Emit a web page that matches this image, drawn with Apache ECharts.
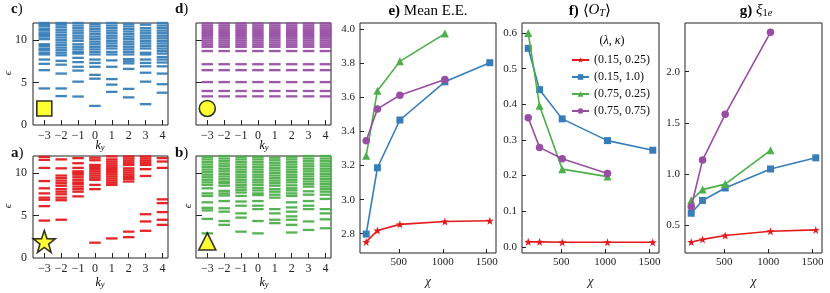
<!DOCTYPE html>
<html>
<head>
<meta charset="utf-8">
<script src="https://cdn.jsdelivr.net/npm/echarts@6/dist/echarts.min.js"></script>
<style>html,body{margin:0;padding:0;background:#fff}#c{width:830px;height:293px}</style>
</head>
<body>
<div id="c"></div>
<script>
// ---------- DATA ----------
const kValues = [-3, -2, -1, 0, 1, 2, 3, 4];
const spectrumTicks = [0, 5, 10];

// panel c) blue spectrum, one list per k
const levelsC = [
  [4.3, 6.45, 7.2, 7.7, 8.3, 8.5, 8.8, 9.0, 9.3, 9.5, 10.1, 10.4, 10.6, 10.8, 11.1, 11.3, 11.6, 11.8, 12.0],
  [3.4, 4.3, 6.05, 7.1, 7.55, 8.2, 8.5, 8.8, 9.1, 9.4, 9.7, 10.0, 10.3, 10.6, 10.9, 11.2, 11.5, 11.8, 12.0],
  [3.35, 5.1, 6.4, 6.85, 7.4, 7.9, 8.4, 8.6, 8.9, 9.2, 9.5, 9.9, 10.2, 10.5, 10.8, 11.1, 11.4, 11.7, 12.0],
  [2.25, 5.45, 5.9, 6.85, 7.3, 7.7, 8.3, 8.6, 8.9, 9.2, 9.5, 9.8, 10.1, 10.4, 10.7, 11.0, 11.3, 11.6, 11.9],
  [3.9, 4.75, 5.4, 6.85, 7.6, 8.3, 8.6, 9.0, 9.3, 9.6, 9.9, 10.2, 10.5, 10.8, 11.1, 11.4, 11.7, 12.0],
  [3.25, 4.25, 6.6, 7.25, 7.5, 7.75, 8.3, 8.6, 8.9, 9.2, 9.5, 9.8, 10.1, 10.4, 10.7, 11.0, 11.3, 11.6, 11.9],
  [2.45, 5.1, 6.15, 6.9, 7.3, 7.7, 8.3, 8.5, 9.0, 9.3, 9.6, 9.9, 10.2, 10.5, 10.8, 11.1, 11.4, 11.8],
  [3.8, 4.8, 6.05, 6.9, 7.35, 7.7, 8.0, 8.4, 8.7, 9.0, 9.3, 9.6, 9.9, 10.2, 10.5, 10.8, 11.1, 11.4, 11.7, 12.0]
];
// panel d) purple spectrum: identical levels at every k
const levelsDAllK = [3.37, 4.0, 5.05, 6.45, 7.15, 8.7, 9.2, 9.45, 9.7, 9.95, 10.2, 10.45, 10.7, 10.95, 11.2, 11.45, 11.7, 11.95];
// panel a) red spectrum
const levelsA = [
  [4.4, 6.1, 6.85, 7.1, 7.6, 8.2, 9.05, 10.6, 11.55, 11.9],
  [4.5, 6.8, 7.1, 7.5, 7.8, 8.1, 8.5, 8.8, 9.1, 9.4, 9.7, 10.55, 11.6],
  [7.25, 7.8, 8.1, 8.4, 8.7, 8.9, 9.2, 9.5, 9.8, 10.0, 10.2, 10.6, 11.15, 11.75],
  [1.8, 8.1, 8.6, 9.2, 9.45, 9.7, 9.95, 10.2, 10.45, 10.7, 10.95, 11.5, 11.8],
  [2.3, 8.6, 8.85, 9.1, 9.35, 9.6, 9.85, 10.1, 10.35, 10.6, 10.85, 11.1, 11.35, 11.6, 11.95],
  [2.45, 3.1, 9.0, 9.3, 9.55, 9.8, 10.05, 10.3, 10.55, 10.95, 11.2, 11.45, 11.7, 11.95],
  [3.2, 4.3, 5.15, 9.65, 10.45, 10.95, 11.2, 11.45, 11.7, 11.95],
  [3.9, 4.5, 5.4, 6.45, 6.9, 10.6, 11.35, 11.75]
];
// panel b) green spectrum
const levelsB = [
  [2.9, 4.6, 5.6, 5.9, 6.55, 7.3, 7.6, 8.2, 8.6, 8.9, 9.2, 9.5, 9.8, 10.1, 10.4, 10.7, 11.0, 11.3, 11.6, 11.9],
  [3.9, 4.35, 5.45, 5.85, 6.7, 7.35, 7.6, 7.9, 8.5, 8.8, 9.0, 9.3, 9.6, 9.9, 10.2, 10.5, 10.8, 11.1, 11.4, 11.7, 12.0],
  [3.1, 4.75, 5.25, 6.15, 6.65, 7.3, 7.7, 8.0, 8.3, 8.6, 8.9, 9.2, 9.5, 9.8, 10.1, 10.4, 10.7, 11.0, 11.3, 11.6, 11.9],
  [2.9, 4.35, 5.75, 6.15, 6.7, 7.4, 7.6, 7.95, 8.25, 8.6, 8.9, 9.2, 9.5, 9.8, 10.1, 10.4, 10.7, 11.0, 11.3, 11.6, 11.9],
  [4.1, 4.5, 5.25, 5.75, 7.1, 7.45, 7.8, 8.1, 8.5, 8.8, 9.1, 9.4, 9.7, 10.0, 10.3, 10.6, 10.9, 11.2, 11.5, 11.8],
  [3.0, 3.9, 4.5, 4.9, 5.45, 5.95, 6.55, 7.3, 7.6, 7.95, 8.2, 8.55, 8.9, 9.2, 9.5, 9.8, 10.1, 10.4, 10.7, 11.0, 11.3, 11.6, 11.9],
  [3.3, 4.3, 5.75, 6.15, 6.7, 7.45, 7.85, 8.4, 8.7, 9.0, 9.3, 9.6, 9.9, 10.2, 10.5, 10.8, 11.1, 11.4, 11.7, 12.0],
  [3.5, 4.55, 5.25, 5.75, 6.95, 7.45, 7.8, 8.1, 8.4, 8.7, 9.0, 9.3, 9.6, 9.9, 10.2, 10.5, 10.8, 11.1, 11.4, 11.7, 12.0]
];
// state markers in the spectrum panels [k, eps]
const markerPos = [-3, 1.95];

// e, f, g panels
const chi = [128, 256, 512, 1024, 1536];
const chiTicks = [500, 1000, 1500];
const seriesNames = ['(0.15, 0.25)', '(0.15, 1.0)', '(0.75, 0.25)', '(0.75, 0.75)'];

const eeRed    = [2.752, 2.819, 2.855, 2.872, 2.876];
const eeBlue   = [2.798, 3.187, 3.467, 3.691, 3.803];
const eeGreen  = [3.257, 3.639, 3.811, 3.974];
const eePurple = [3.346, 3.532, 3.612, 3.704];
const eeTicks  = [2.8, 3.0, 3.2, 3.4, 3.6, 3.8, 4.0];

const otRed    = [0.014, 0.014, 0.013, 0.013, 0.013];
const otBlue   = [0.557, 0.441, 0.359, 0.298, 0.271];
const otGreen  = [0.600, 0.396, 0.218, 0.197];
const otPurple = [0.362, 0.279, 0.247, 0.206];
const otTicks  = [0.0, 0.1, 0.2, 0.3, 0.4, 0.5, 0.6];

const xiRed    = [0.333, 0.359, 0.397, 0.439, 0.452];
const xiBlue   = [0.615, 0.740, 0.862, 1.048, 1.157];
const xiGreen  = [0.743, 0.846, 0.900, 1.230];
const xiPurple = [0.679, 1.135, 1.583, 2.385];
const xiTicks  = [0.5, 1.0, 1.5, 2.0];

// ---------- STYLE ----------
const FONT = 'Liberation Serif';
const RED = '#e41a1c', BLUE = '#377eb8', GREEN = '#4daf4a', PURPLE = '#984ea3';
const colors = [RED, BLUE, GREEN, PURPLE];
const STAR = 'path://M0,-10 L2.35,-3.24 L9.51,-3.09 L3.8,1.24 L5.88,8.09 L0,4 L-5.88,8.09 L-3.8,1.24 L-9.51,-3.09 L-2.35,-3.24 Z';
const symbols = [STAR, 'rect', 'triangle', 'circle'];
const symSizes = [8, 7, 8, 7.5];

const chart = echarts.init(document.getElementById('c'), null, {renderer: 'canvas'});

const grids = [
  {left: 33, top: 23, width: 135, height: 102},   // c
  {left: 196, top: 23, width: 135, height: 102},  // d
  {left: 33, top: 156, width: 135, height: 102},  // a
  {left: 196, top: 156, width: 135, height: 102}, // b
  {left: 360, top: 23, width: 136, height: 235},  // e
  {left: 522, top: 23, width: 137, height: 235},  // f
  {left: 685, top: 23, width: 137, height: 235}   // g
].map(g => Object.assign({show: true, borderColor: '#222', borderWidth: 1, backgroundColor: 'transparent'}, g));

const minus = v => (v < 0 ? '\u2212' + Math.abs(v) : '' + v);
const tickStyle = {inside: true, length: 4, lineStyle: {color: '#222', width: 1}};
const labelStyle = {fontFamily: FONT, fontSize: 12, color: '#222'};

const xAxes = [], yAxes = [];
for (let i = 0; i < 4; i++) {
  xAxes.push({
    gridIndex: i, type: 'value', min: -3.67, max: 4.33, position: 'bottom',
    axisLine: {show: false, onZero: false}, splitLine: {show: false},
    axisTick: Object.assign({customValues: kValues}, tickStyle, {length: 5}),
    axisLabel: Object.assign({customValues: kValues, formatter: minus, margin: 5}, labelStyle)
  });
  yAxes.push({
    gridIndex: i, type: 'value', min: 0, max: 12, position: 'left',
    axisLine: {show: false, onZero: false}, splitLine: {show: false},
    axisTick: Object.assign({customValues: [5, 10]}, tickStyle, {length: 6}),
    axisLabel: Object.assign({show: i === 0 || i === 2, customValues: spectrumTicks, margin: 6}, labelStyle)
  });
}
const yDefs = [
  {min: 2.687, max: 4.036, ticks: eeTicks},
  {min: -0.0173, max: 0.628, ticks: otTicks},
  {min: 0.226, max: 2.476, ticks: xiTicks}
];
for (let j = 0; j < 3; j++) {
  const gi = 4 + j;
  xAxes.push({
    gridIndex: gi, type: 'value', min: 57.6, max: 1606.4, position: 'bottom',
    axisLine: {show: false, onZero: false}, splitLine: {show: false},
    axisTick: Object.assign({customValues: chiTicks}, tickStyle),
    axisLabel: Object.assign({customValues: chiTicks, formatter: v => String(v), margin: 4}, labelStyle, {fontSize: 11}),
    name: '\u03c7', nameLocation: 'middle', nameGap: 22,
    nameTextStyle: {fontFamily: FONT, fontSize: 13, fontStyle: 'italic', color: '#222'}
  });
  yAxes.push({
    gridIndex: gi, type: 'value', min: yDefs[j].min, max: yDefs[j].max, position: 'left',
    axisLine: {show: false, onZero: false}, splitLine: {show: false},
    axisTick: Object.assign({customValues: yDefs[j].ticks}, tickStyle),
    axisLabel: Object.assign({customValues: yDefs[j].ticks, formatter: v => v.toFixed(1), margin: 5}, labelStyle, {fontSize: 11})
  });
}

const series = [];
function spectrum(gi, color, getLevels) {
  const data = [];
  kValues.forEach((k, idx) => getLevels(idx).forEach(e => data.push([k, e])));
  series.push({
    type: 'scatter', xAxisIndex: gi, yAxisIndex: gi, data: data,
    symbol: 'rect', symbolSize: [11.5, 2.3], silent: true,
    itemStyle: {color: color, opacity: 0.95}, emphasis: {disabled: true}, z: 2
  });
}
spectrum(0, BLUE, i => levelsC[i]);
spectrum(1, PURPLE, () => levelsDAllK);
spectrum(2, RED, i => levelsA[i]);
spectrum(3, GREEN, i => levelsB[i]);

const markerDefs = [
  {gi: 0, symbol: 'rect', size: 15},
  {gi: 1, symbol: 'circle', size: 16},
  {gi: 2, symbol: STAR, size: 22},
  {gi: 3, symbol: 'triangle', size: 17}
];
markerDefs.forEach(m => series.push({
  type: 'scatter', xAxisIndex: m.gi, yAxisIndex: m.gi, data: [markerPos],
  symbol: m.symbol, symbolSize: m.size, silent: true,
  itemStyle: {color: '#ffff00', borderColor: '#000', borderWidth: 1.6}, z: 5
}));

const panels = [
  [eeRed, eeBlue, eeGreen, eePurple],
  [otRed, otBlue, otGreen, otPurple],
  [xiRed, xiBlue, xiGreen, xiPurple]
];
panels.forEach((arrs, j) => {
  arrs.forEach((vals, s) => {
    series.push({
      type: 'line', name: seriesNames[s], xAxisIndex: 4 + j, yAxisIndex: 4 + j,
      data: vals.map((v, i) => [chi[i], v]),
      symbol: symbols[s], symbolSize: symSizes[s], showSymbol: true,
      lineStyle: {color: colors[s], width: 1.6},
      itemStyle: {color: colors[s]}, emphasis: {disabled: true}, z: 3 + s
    });
  });
});

const graphic = [];
function addText(x, y, text, rich) {
  graphic.push({type: 'text', x: x, y: y,
    style: {text: text, rich: rich, fill: '#111', textAlign: 'left', textVerticalAlign: 'middle'}});
}
const richPanel = {b: {fontFamily: FONT, fontSize: 15, fontWeight: 'bold', color: '#111'}, n: {fontFamily: FONT, fontSize: 15, color: '#111'}};
addText(11, 9, '{b|c}{n|)}', richPanel);
addText(175, 9, '{b|d}{n|)}', richPanel);
addText(11, 153, '{b|a}{n|)}', richPanel);
addText(175, 153, '{b|b}{n|)}', richPanel);

const richK = {
  i: {fontFamily: FONT, fontSize: 12, fontStyle: 'italic', color: '#111', verticalAlign: 'top', lineHeight: 12},
  s: {fontFamily: FONT, fontSize: 8.5, fontStyle: 'italic', color: '#111', verticalAlign: 'bottom', lineHeight: 9}
};
function kLabel(x, y) {
  graphic.push({type: 'text', x: x, y: y, style: {text: '{i|k}{s|y}', rich: richK, textAlign: 'center', textVerticalAlign: 'middle'}});
}
kLabel(100, 283); kLabel(264, 283); kLabel(100, 146); kLabel(264, 146);

function epsLabel(x, y) {
  graphic.push({type: 'text', x: x, y: y, rotation: Math.PI / 2,
    style: {text: '\u03f5', font: 'italic 11px "' + FONT + '"', fill: '#111', textAlign: 'center', textVerticalAlign: 'middle'}});
}
epsLabel(8, 73); epsLabel(8, 206); epsLabel(188, 206);

const richT = {
  b: {fontFamily: FONT, fontSize: 15, fontWeight: 'bold', color: '#111'},
  n: {fontFamily: FONT, fontSize: 15, color: '#111'},
  i: {fontFamily: FONT, fontSize: 15, fontStyle: 'italic', color: '#111', verticalAlign: 'top', lineHeight: 16},
  s: {fontFamily: FONT, fontSize: 10.5, fontStyle: 'italic', color: '#111', verticalAlign: 'bottom', lineHeight: 10},
  sn: {fontFamily: FONT, fontSize: 10.5, color: '#111', verticalAlign: 'bottom', lineHeight: 10}
};
function title(x, text) {
  graphic.push({type: 'text', x: x, y: 11, style: {text: text, rich: richT, textAlign: 'center', textVerticalAlign: 'middle'}});
}
title(428, '{b|e)}{n| Mean E.E.}');
title(590, '{b|f)}{n| \u27e8}{i|O}{s|T}{n|\u27e9}');
title(756, '{b|g)}{n| }{i|\u03be}{sn|1}{s|e}');

graphic.push({type: 'text', x: 612, y: 41, style: {text: '{n|(}{i|\u03bb}{n|, }{i|\u03ba}{n|)}',
  rich: {n: {fontFamily: FONT, fontSize: 12, color: '#111'}, i: {fontFamily: FONT, fontSize: 12, fontStyle: 'italic', color: '#111'}},
  textAlign: 'center', textVerticalAlign: 'middle'}});

chart.setOption({
  animation: false,
  backgroundColor: '#fff',
  grid: grids,
  xAxis: xAxes,
  yAxis: yAxes,
  series: series,
  legend: {
    data: seriesNames, orient: 'vertical', left: 571, top: 54, padding: 0,
    itemWidth: 17, itemHeight: 7, itemGap: 5, selectedMode: false,
    textStyle: {fontFamily: FONT, fontSize: 12, color: '#111', lineHeight: 12}
  },
  graphic: graphic
});
</script>
</body>
</html>
